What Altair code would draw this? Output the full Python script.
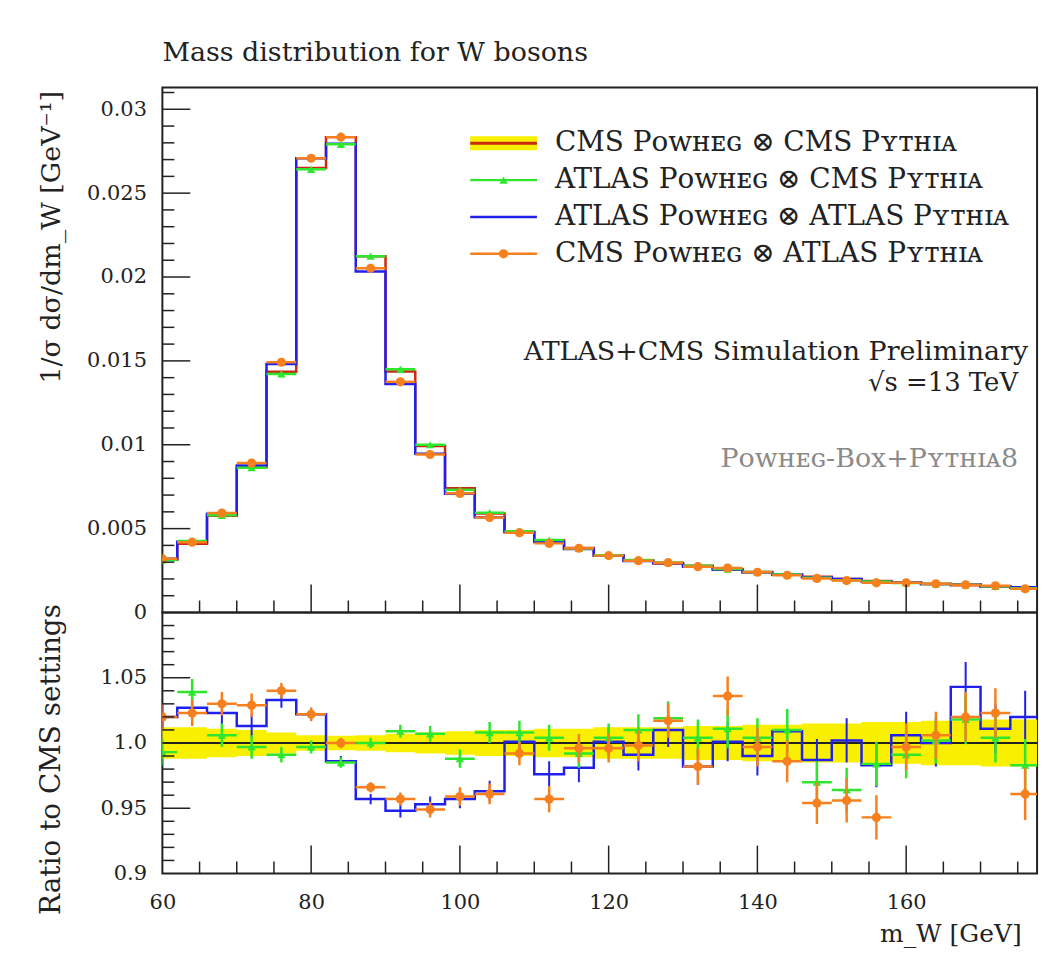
import altair as alt
import pandas as pd

# ---------------- data ----------------
centers = [60, 64, 68, 72, 76, 80, 84, 88, 92, 96, 100, 104, 108, 112, 116,
           120, 124, 128, 132, 136, 140, 144, 148, 152, 156, 160, 164, 168, 172, 176]
half_bin = 2

# 1/sigma dsigma/dm_W  (top panel)
cms_cms = [0.00315, 0.00410, 0.00576, 0.00866, 0.01435, 0.02650, 0.02834, 0.02124,
           0.01437, 0.00993, 0.00740, 0.00590, 0.00480, 0.00430, 0.00385, 0.00340,
           0.00310, 0.00292, 0.00278, 0.00256, 0.00241, 0.00225, 0.00213, 0.00199,
           0.00188, 0.00178, 0.00170, 0.00162, 0.00155, 0.00147]
atlas_cms = [0.00313, 0.00426, 0.00579, 0.00863, 0.01422, 0.02642, 0.02791, 0.02124,
             0.01450, 0.01000, 0.00731, 0.00595, 0.00484, 0.00432, 0.00382, 0.00341,
             0.00313, 0.00298, 0.00279, 0.00259, 0.00242, 0.00227, 0.00207, 0.00192,
             0.00185, 0.00176, 0.00170, 0.00165, 0.00156, 0.00145]
atlas_atlas = [0.00321, 0.00421, 0.00589, 0.00877, 0.01482, 0.02708, 0.02794, 0.02033,
               0.01362, 0.00946, 0.00708, 0.00568, 0.00480, 0.00420, 0.00378, 0.00340,
               0.00307, 0.00295, 0.00273, 0.00256, 0.00239, 0.00227, 0.00210, 0.00199,
               0.00185, 0.00179, 0.00170, 0.00169, 0.00157, 0.00150]
cms_atlas = [0.00321, 0.00419, 0.00593, 0.00891, 0.01492, 0.02708, 0.02834, 0.02052,
             0.01375, 0.00942, 0.00710, 0.00567, 0.00476, 0.00412, 0.00383, 0.00339,
             0.00309, 0.00297, 0.00273, 0.00265, 0.00240, 0.00222, 0.00203, 0.00190,
             0.00177, 0.00177, 0.00171, 0.00165, 0.00159, 0.00141]

# ratio to CMS settings (bottom panel)
ratio_atlas_cms = [0.993, 1.039, 1.006, 0.997, 0.991, 0.997, 0.985, 1.000, 1.009, 1.007,
                   0.988, 1.008, 1.008, 1.004, 0.992, 1.004, 1.010, 1.019, 1.004, 1.011,
                   1.004, 1.010, 0.970, 0.964, 0.984, 0.991, 1.002, 1.018, 1.004, 0.983]
ratio_atlas_atlas = [1.020, 1.027, 1.023, 1.013, 1.033, 1.022, 0.986, 0.957, 0.948, 0.953,
                     0.957, 0.963, 1.001, 0.976, 0.981, 1.001, 0.991, 1.010, 0.982, 1.001,
                     0.990, 1.009, 0.987, 1.002, 0.983, 1.006, 1.000, 1.043, 1.011, 1.020]
ratio_cms_atlas = [1.020, 1.023, 1.030, 1.029, 1.040, 1.022, 1.000, 0.966, 0.957, 0.949,
                   0.959, 0.961, 0.992, 0.957, 0.996, 0.996, 0.998, 1.017, 0.982, 1.036,
                   0.997, 0.986, 0.954, 0.956, 0.943, 0.997, 1.006, 1.020, 1.023, 0.961]
ratio_err = [0.010, 0.010, 0.009, 0.009, 0.006, 0.005, 0.004, 0.004, 0.005, 0.006,
             0.007, 0.008, 0.009, 0.010, 0.011, 0.011, 0.012, 0.013, 0.014, 0.015,
             0.015, 0.016, 0.016, 0.017, 0.017, 0.018, 0.018, 0.019, 0.019, 0.020]
band_half = [0.012, 0.012, 0.011, 0.010, 0.008, 0.006, 0.0055, 0.006, 0.007, 0.008,
             0.009, 0.010, 0.010, 0.011, 0.011, 0.012, 0.012, 0.012, 0.013, 0.013,
             0.014, 0.014, 0.015, 0.015, 0.016, 0.016, 0.017, 0.017, 0.018, 0.018]

# axis ticks
x_major = [60, 80, 100, 120, 140, 160]
x_minor = [65, 70, 75, 85, 90, 95, 105, 110, 115, 125, 130, 135, 145, 150, 155, 165, 170, 175]
top_major = [0, 0.005, 0.01, 0.015, 0.02, 0.025, 0.03]
top_minor = [0.001, 0.002, 0.003, 0.004, 0.006, 0.007, 0.008, 0.009, 0.011, 0.012, 0.013,
             0.014, 0.016, 0.017, 0.018, 0.019, 0.021, 0.022, 0.023, 0.024, 0.026, 0.027,
             0.028, 0.029, 0.031]
ratio_major = [0.9, 0.95, 1.0, 1.05]
ratio_minor = [0.91, 0.92, 0.93, 0.94, 0.96, 0.97, 0.98, 0.99, 1.01, 1.02, 1.03, 1.04,
               1.06, 1.07, 1.08, 1.09]

legend_labels = ["CMS Pᴏᴡʜᴇɢ ⊗ CMS Pʏᴛʜɪᴀ",
                 "ATLAS Pᴏᴡʜᴇɢ ⊗ CMS Pʏᴛʜɪᴀ",
                 "ATLAS Pᴏᴡʜᴇɢ ⊗ ATLAS Pʏᴛʜɪᴀ",
                 "CMS Pᴏᴡʜᴇɢ ⊗ ATLAS Pʏᴛʜɪᴀ"]

# ---------------- styling ----------------
FONT = "DejaVu Serif"
YELLOW = "#f8f000"
RED = "#cc2a10"
GREEN = "#2ee62e"
BLUE = "#2020ee"
ORANGE = "#f7801e"
INK = "#222222"

W = 878
H_TOP = 527
H_BOT = 262
X_MIN, X_MAX = 60, 177.6

xs = alt.Scale(domain=[X_MIN, X_MAX], nice=False, zero=False)
ys_top = alt.Scale(domain=[0, 0.0313], nice=False, zero=False)
ys_bot = alt.Scale(domain=[0.9, 1.1], nice=False, zero=False)


def steps(vals):
    rows = []
    for i, (c, v) in enumerate(zip(centers, vals)):
        rows.append({"x": c - half_bin, "y": v, "o": 2 * i})
        rows.append({"x": c + half_bin, "y": v, "o": 2 * i + 1})
    return pd.DataFrame(rows)


def bins(vals, errs=None):
    d = pd.DataFrame({"lo": [c - half_bin for c in centers],
                      "hi": [c + half_bin for c in centers],
                      "xc": centers, "y": vals})
    if errs is not None:
        d["ylo"] = [v - e for v, e in zip(vals, errs)]
        d["yhi"] = [v + e for v, e in zip(vals, errs)]
    return d


def band_steps():
    rows = []
    for i, (c, h) in enumerate(zip(centers, band_half)):
        rows.append({"x": c - half_bin, "lo": 1 - h, "hi": 1 + h, "o": 2 * i})
        rows.append({"x": c + half_bin, "lo": 1 - h, "hi": 1 + h, "o": 2 * i + 1})
    return pd.DataFrame(rows)


one = alt.Data(values=[{"k": 0}])

# ---------------- top panel ----------------
top_y_axis = alt.Axis(values=top_major, format="~g", ticks=False, domain=False, grid=False,
                      labelFontSize=21, labelPadding=16, labelFont=FONT, labelColor=INK,
                      title="1/σ dσ/dm_W [GeV⁻¹]", titleFont=FONT, titleFontSize=27,
                      titleFontWeight="normal", titleColor=INK, titleAngle=270,
                      titleX=-111, titleY=3, titleAlign="right", titleBaseline="middle")


def XT(f):
    return alt.X(f, type="quantitative", scale=xs, axis=None)


def YT(f):
    return alt.Y(f, type="quantitative", scale=ys_top, axis=top_y_axis)


red_top = alt.Chart(steps(cms_cms)).mark_line(color=RED, strokeWidth=2.5, clip=True).encode(
    x=XT("x"), y=YT("y"), order=alt.Order("o:Q"))
blue_top = alt.Chart(steps(atlas_atlas)).mark_line(color=BLUE, strokeWidth=2.5, clip=True).encode(
    x=XT("x"), y=YT("y"), order=alt.Order("o:Q"))
green_bars_top = alt.Chart(bins(atlas_cms)).mark_rule(color=GREEN, strokeWidth=2.5, clip=True).encode(
    x=XT("lo"), x2="hi", y=YT("y"))
green_pts_top = alt.Chart(bins(atlas_cms)).mark_point(shape="triangle-up", filled=True, color=GREEN,
                                                      size=70, opacity=1, clip=True).encode(
    x=XT("xc"), y=YT("y"))
orange_bars_top = alt.Chart(bins(cms_atlas)).mark_rule(color=ORANGE, strokeWidth=2.5, clip=True).encode(
    x=XT("lo"), x2="hi", y=YT("y"))
orange_pts_top = alt.Chart(bins(cms_atlas)).mark_circle(color=ORANGE, size=85, opacity=1, clip=True).encode(
    x=XT("xc"), y=YT("y"))

# inward ticks of the top panel
tx_major_top = alt.Chart(pd.DataFrame({"v": x_major[1:]})).mark_rule(color=INK, strokeWidth=1.5).encode(
    x=XT("v"), y=alt.value(H_TOP), y2=alt.value(H_TOP - 28))
tx_minor_top = alt.Chart(pd.DataFrame({"v": x_minor})).mark_rule(color=INK, strokeWidth=1.5).encode(
    x=XT("v"), y=alt.value(H_TOP), y2=alt.value(H_TOP - 12))
ty_major_top = alt.Chart(pd.DataFrame({"v": top_major[1:]})).mark_rule(color=INK, strokeWidth=1.5).encode(
    y=YT("v"), x=alt.value(0), x2=alt.value(28))
ty_minor_top = alt.Chart(pd.DataFrame({"v": top_minor})).mark_rule(color=INK, strokeWidth=1.5).encode(
    y=YT("v"), x=alt.value(0), x2=alt.value(12))

# legend (drawn by hand)
LX0, LX1, LTX = 309, 376, 394
LROWS = [56, 93, 130, 167]
LEG_FS = 28
leg = []
leg.append(alt.Chart(one).mark_rule(color=YELLOW, strokeWidth=14).encode(
    x=alt.value(LX0), x2=alt.value(LX1), y=alt.value(LROWS[0])))
leg.append(alt.Chart(one).mark_rule(color=RED, strokeWidth=3).encode(
    x=alt.value(LX0), x2=alt.value(LX1), y=alt.value(LROWS[0])))
leg.append(alt.Chart(one).mark_rule(color=GREEN, strokeWidth=2.5).encode(
    x=alt.value(LX0), x2=alt.value(LX1), y=alt.value(LROWS[1])))
leg.append(alt.Chart(one).mark_point(shape="triangle-up", filled=True, color=GREEN, size=70, opacity=1).encode(
    x=alt.value((LX0 + LX1) / 2), y=alt.value(LROWS[1])))
leg.append(alt.Chart(one).mark_rule(color=BLUE, strokeWidth=2.5).encode(
    x=alt.value(LX0), x2=alt.value(LX1), y=alt.value(LROWS[2])))
leg.append(alt.Chart(one).mark_rule(color=ORANGE, strokeWidth=2.5).encode(
    x=alt.value(LX0), x2=alt.value(LX1), y=alt.value(LROWS[3])))
leg.append(alt.Chart(one).mark_circle(color=ORANGE, size=85, opacity=1).encode(
    x=alt.value((LX0 + LX1) / 2), y=alt.value(LROWS[3])))
for lab, yy in zip(legend_labels, LROWS):
    leg.append(alt.Chart(one).mark_text(text=lab, font=FONT, fontSize=LEG_FS, color=INK,
                                        align="left", baseline="middle").encode(
        x=alt.value(LTX), y=alt.value(yy)))

notes = [
    alt.Chart(one).mark_text(text="ATLAS+CMS Simulation Preliminary", font=FONT, fontSize=27,
                             color=INK, align="right", baseline="middle").encode(
        x=alt.value(869), y=alt.value(266)),
    alt.Chart(one).mark_text(text="√s =13 TeV", font=FONT, fontSize=26, color=INK,
                             align="right", baseline="middle").encode(
        x=alt.value(859), y=alt.value(297)),
    alt.Chart(one).mark_text(text="Pᴏᴡʜᴇɢ-Bᴏx+Pʏᴛʜɪᴀ8", font=FONT, fontSize=27, color="#8a8a8a",
                             align="right", baseline="middle").encode(
        x=alt.value(859), y=alt.value(373)),
]

top = alt.layer(
    red_top, blue_top, green_bars_top, green_pts_top, orange_bars_top, orange_pts_top,
    tx_major_top, tx_minor_top, ty_major_top, ty_minor_top, *leg, *notes
).properties(
    width=W, height=H_TOP,
    title=alt.TitleParams("Mass distribution for W bosons", anchor="start", frame="group",
                          font=FONT, fontSize=27, fontWeight="normal", color=INK,
                          baseline="alphabetic", offset=0)
)

# ---------------- ratio panel ----------------
bot_x_axis = alt.Axis(values=x_major, ticks=False, domain=False, grid=False, labelFlush=False,
                      labelFontSize=21, labelPadding=18, labelFont=FONT, labelColor=INK,
                      title="m_W [GeV]", titleFont=FONT, titleFontSize=25, titleFontWeight="normal",
                      titleColor=INK, titleX=862, titleY=68, titleAlign="right",
                      titleBaseline="alphabetic")
bot_y_axis = alt.Axis(values=ratio_major, ticks=False, domain=False, grid=False,
                      labelExpr="datum.value == 1 ? '1.0' : format(datum.value, '~g')",
                      labelFontSize=21, labelPadding=16, labelFont=FONT, labelColor=INK,
                      title="Ratio to CMS settings", titleFont=FONT, titleFontSize=28,
                      titleFontWeight="normal", titleColor=INK, titleAngle=270,
                      titleX=-111, titleY=147, titleAlign="center", titleBaseline="middle")


def XB(f):
    return alt.X(f, type="quantitative", scale=xs, axis=bot_x_axis)


def YB(f):
    return alt.Y(f, type="quantitative", scale=ys_bot, axis=bot_y_axis)


band = alt.Chart(band_steps()).mark_area(color=YELLOW, opacity=1, clip=True, interpolate="linear").encode(
    x=XB("x"), y=YB("lo"), y2="hi")
unity = alt.Chart(pd.DataFrame({"v": [1.0]})).mark_rule(color=INK, strokeWidth=1.8).encode(
    y=YB("v"), x=alt.value(0), x2=alt.value(W))
blue_bot = alt.Chart(steps(ratio_atlas_atlas)).mark_line(color=BLUE, strokeWidth=2.5, clip=True).encode(
    x=XB("x"), y=YB("y"), order=alt.Order("o:Q"))
blue_err = alt.Chart(bins(ratio_atlas_atlas, ratio_err)).mark_rule(color=BLUE, strokeWidth=2, clip=True).encode(
    x=XB("xc"), y=YB("ylo"), y2="yhi")


def crosses(vals, color, shape):
    d = bins(vals, ratio_err)
    h = alt.Chart(d).mark_rule(color=color, strokeWidth=2.5, clip=True).encode(
        x=XB("lo"), x2="hi", y=YB("y"))
    v = alt.Chart(d).mark_rule(color=color, strokeWidth=2.5, clip=True).encode(
        x=XB("xc"), y=YB("ylo"), y2="yhi")
    if shape == "circle":
        p = alt.Chart(d).mark_circle(color=color, size=85, opacity=1, clip=True).encode(
            x=XB("xc"), y=YB("y"))
    else:
        p = alt.Chart(d).mark_point(shape=shape, filled=True, color=color, size=70, opacity=1,
                                    clip=True).encode(x=XB("xc"), y=YB("y"))
    return [h, v, p]


tx_major_bot = alt.Chart(pd.DataFrame({"v": x_major[1:]})).mark_rule(color=INK, strokeWidth=1.5).encode(
    x=XB("v"), y=alt.value(H_BOT), y2=alt.value(H_BOT - 28))
tx_minor_bot = alt.Chart(pd.DataFrame({"v": x_minor})).mark_rule(color=INK, strokeWidth=1.5).encode(
    x=XB("v"), y=alt.value(H_BOT), y2=alt.value(H_BOT - 12))
ty_major_bot = alt.Chart(pd.DataFrame({"v": ratio_major[1:]})).mark_rule(color=INK, strokeWidth=1.5).encode(
    y=YB("v"), x=alt.value(0), x2=alt.value(28))
ty_minor_bot = alt.Chart(pd.DataFrame({"v": ratio_minor})).mark_rule(color=INK, strokeWidth=1.5).encode(
    y=YB("v"), x=alt.value(0), x2=alt.value(12))

bottom = alt.layer(
    band, unity, blue_bot, blue_err,
    *crosses(ratio_atlas_cms, GREEN, "triangle-up"),
    *crosses(ratio_cms_atlas, ORANGE, "circle"),
    tx_major_bot, tx_minor_bot, ty_major_bot, ty_minor_bot
).properties(width=W, height=H_BOT)

chart = alt.vconcat(top, bottom, spacing=0).properties(
    bounds="flush",
    padding={"left": 37, "top": 36, "right": 15, "bottom": 5},
    background="white"
).configure_view(stroke=INK, strokeWidth=2).configure_concat(spacing=0)

chart.save("out.html", embed_options={"renderer": "svg", "actions": False})
